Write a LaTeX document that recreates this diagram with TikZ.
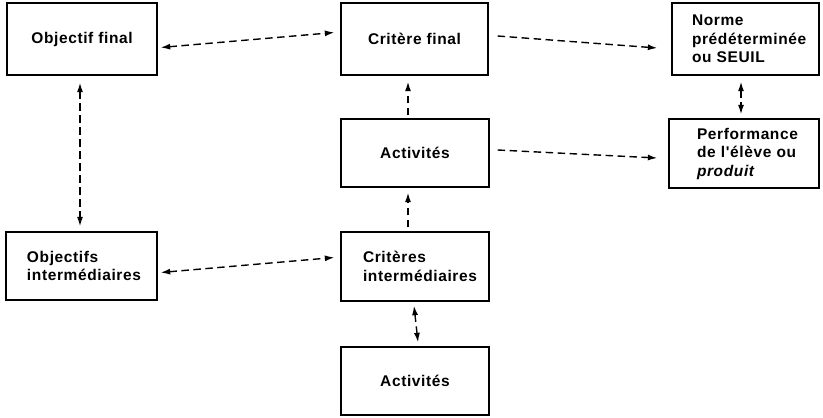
\documentclass[tikz,border=0pt]{standalone}
\usepackage{fontspec}
\setmainfont{Liberation Sans}[LetterSpace=4, Ligatures=TeXOff]
\usetikzlibrary{arrows.meta,calc}
\tikzset{
  boxnode/.style={draw=black, line width=1.3pt, inner ysep=0pt, inner xsep=0pt,
    font=\fontsize{15.5}{18.5}\selectfont\bfseries, anchor=center},
  multi/.style={align=left},
  conn/.style={line width=1.4pt, dash pattern=on 7.5pt off 4.5pt},
  tip/.style={-{Latex[length=9.5pt,width=6pt]}},
  tips/.style={{Latex[length=9.5pt,width=6pt]}-{Latex[length=9.5pt,width=6pt]}}
}
\begin{document}
\begin{tikzpicture}[x=1pt,y=-1pt]
\useasboundingbox (0,0) rectangle (823,418);
\node[boxnode, minimum width=150pt, minimum height=72pt] (of) at (82,39) {Objectif final};
\node[boxnode, minimum width=147pt, minimum height=72pt] (cf) at (414.5,39) {Critère final};
\node[boxnode, multi, minimum width=147pt, minimum height=72pt, inner xsep=20pt, text width=107pt] (norme) at (745.5,39) {\mbox{Norme}\\\mbox{prédéterminée}\\\mbox{ou SEUIL}};
\node[boxnode, multi, minimum width=150pt, minimum height=69pt, inner xsep=28pt, text width=94pt] (perf) at (744,153.5) {\mbox{Performance}\\\mbox{de l'élève ou}\\\mbox{\itshape produit}};
\node[boxnode, minimum width=148pt, minimum height=68pt] (act1) at (415,153) {Activités};
\node[boxnode, multi, minimum width=151pt, minimum height=68pt, inner xsep=21pt, text width=109pt] (oi) at (81.5,266) {\mbox{Objectifs}\\\mbox{intermédiaires}};
\node[boxnode, multi, minimum width=148pt, minimum height=69pt, inner xsep=22pt, text width=104pt] (ci) at (415,266.5) {\mbox{Critères}\\\mbox{intermédiaires}};
\node[boxnode, minimum width=148pt, minimum height=68pt] (act2) at (415,381) {Activités};

\draw[conn, tips] ($(of.east)+(3,8.5)$) -- ($(cf.west)+(-6,-6.5)$);
\draw[conn, tip] ($(cf.east)+(9,-3)$) -- ($(norme.west)+(-14,9)$);
\draw[conn, tip] ($(act1.east)+(8,-3)$) -- ($(perf.west)+(-11,4.5)$);
\draw[conn, tips] ($(norme.south)+(-4.5,6)$) -- ($(perf.north)+(-3,-4)$);
\draw[conn, tip] ($(act1.north)+(-7,-3)$) -- ($(cf.south)+(-6.5,6)$);
\draw[conn, tip] ($(ci.north)+(-7,-4)$) -- ($(act1.south)+(-7,5)$);
\draw[conn, tips] ($(of.south)+(-2,7)$) -- ($(oi.north)+(-1.5,-5)$);
\draw[conn, tips] ($(oi.east)+(3,6.5)$) -- ($(ci.west)+(-6,-9)$);
\draw[conn, tips] ($(ci.south)+(-1,4)$) -- ($(act2.north)+(3,-4)$);
\end{tikzpicture}
\end{document}
